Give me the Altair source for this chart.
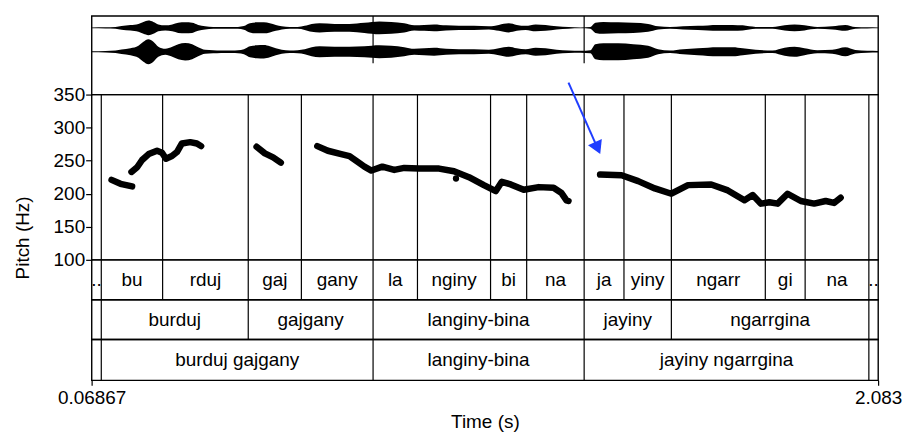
import altair as alt
import pandas as pd

# ---------------- data ----------------
T_START, T_END = 0.06867, 2.083
x_tick_values = [0.06867, 2.083]
x_tick_labels = ["0.06867", "2.083"]
pitch_ticks = [100, 150, 200, 250, 300, 350]

# waveform envelope (time in s, half amplitude per channel, relative units)
wave_t = [0.0687, 0.1044, 0.1299, 0.1452, 0.1681, 0.1885, 0.2013, 0.2140, 0.2268, 0.2395,
          0.2573, 0.2752, 0.2905, 0.3083, 0.3262, 0.3415, 0.3593, 0.3797, 0.4001, 0.4282,
          0.4435, 0.4588, 0.4741, 0.4919, 0.5098, 0.5251, 0.5404, 0.5557, 0.5761, 0.5965,
          0.6143, 0.6322, 0.6526, 0.6908, 0.7291, 0.7673, 0.8056, 0.8362, 0.8693, 0.8948,
          0.9203, 0.9458, 0.9764, 1.0096, 1.0478, 1.0861, 1.1116, 1.1371, 1.1575, 1.1804,
          1.2059, 1.2314, 1.2595, 1.2900, 1.3206, 1.3461, 1.3589, 1.3793, 1.4175, 1.4558,
          1.4940, 1.5195, 1.5501, 1.5833, 1.6215, 1.6725, 1.7108, 1.7363, 1.7694, 1.8128,
          1.8434, 1.8689, 1.8944, 1.9275, 1.9658, 1.9990, 2.0245, 2.0551, 2.0830]
wave_ch1 = [0.04, 0.05, 0.08, 0.15, 0.23, 0.33, 0.50, 0.61, 0.50, 0.29,
            0.21, 0.29, 0.42, 0.46, 0.42, 0.25, 0.13, 0.08, 0.07, 0.07,
            0.08, 0.15, 0.38, 0.46, 0.46, 0.38, 0.25, 0.13, 0.08, 0.08,
            0.17, 0.33, 0.38, 0.33, 0.33, 0.42, 0.54, 0.50, 0.38, 0.21,
            0.25, 0.29, 0.21, 0.17, 0.17, 0.13, 0.25, 0.38, 0.25, 0.17,
            0.29, 0.25, 0.13, 0.07, 0.04, 0.08, 0.42, 0.50, 0.46, 0.42,
            0.33, 0.13, 0.07, 0.13, 0.17, 0.25, 0.25, 0.21, 0.08, 0.07,
            0.21, 0.29, 0.21, 0.08, 0.13, 0.25, 0.08, 0.05, 0.04]
wave_ch2 = [0.05, 0.07, 0.10, 0.18, 0.29, 0.50, 0.83, 1.04, 0.83, 0.42,
            0.25, 0.42, 0.63, 0.73, 0.63, 0.38, 0.17, 0.13, 0.10, 0.10,
            0.13, 0.21, 0.46, 0.54, 0.56, 0.46, 0.29, 0.17, 0.10, 0.13,
            0.21, 0.38, 0.46, 0.42, 0.42, 0.46, 0.54, 0.50, 0.38, 0.25,
            0.29, 0.33, 0.25, 0.21, 0.21, 0.17, 0.29, 0.42, 0.29, 0.21,
            0.33, 0.29, 0.17, 0.10, 0.08, 0.13, 0.63, 0.71, 0.71, 0.63,
            0.50, 0.21, 0.10, 0.21, 0.29, 0.38, 0.38, 0.29, 0.17, 0.10,
            0.33, 0.42, 0.29, 0.13, 0.17, 0.38, 0.15, 0.08, 0.07]

# pitch track segments (time s, Hz)
seg1_t = [0.1197, 0.1426, 0.1724]
seg1_f = [221, 215, 211]
seg2_t = [0.1707, 0.1852, 0.1979, 0.2148, 0.2362, 0.2490, 0.2591, 0.2744, 0.2872,
          0.2999, 0.3211, 0.3382, 0.3491]
seg2_f = [233, 240, 251, 260, 265, 262, 253, 257, 263, 276, 278, 276, 272]
seg3_t = [0.4912, 0.5124, 0.5335, 0.5532]
seg3_f = [271, 261, 255, 247]
seg4_t = [0.6467, 0.6737, 0.7079, 0.7291, 0.7502, 0.7673, 0.7852, 0.8132, 0.8438,
          0.8693, 0.9076, 0.9586, 0.9968, 1.0351, 1.0733, 1.1039, 1.1192, 1.1421,
          1.1753, 1.2135, 1.2518, 1.2722, 1.2849, 1.2900]
seg4_f = [272, 265, 260, 257, 248, 241, 235, 241, 236, 239, 238, 238, 234, 225, 213,
          204, 218, 214, 206, 210, 209, 201, 190, 189]
seg5_t = [1.3709, 1.4260, 1.4686, 1.5112, 1.5535, 1.5961, 1.6555, 1.6981, 1.7406,
          1.7618, 1.7830, 1.8044, 1.8256, 1.8511, 1.8851, 1.9192, 1.9487, 1.9701, 1.9870]
seg5_f = [229, 228, 219, 208, 200, 213, 214, 205, 190, 198, 185, 187, 185, 200, 189,
          185, 189, 186, 194]
dot_t = [1.0019]
dot_f = [223]

# annotation arrow (start / head position, time s and Hz)
arrow_start = [1.290, 368]
arrow_head = [1.3645, 269]

# text tiers
tier1_bounds = [0.0934, 0.2505, 0.4698, 0.6059, 0.7895, 0.9032, 1.0904, 1.1829,
                1.3301, 1.4321, 1.5535, 1.7941, 1.8961, 2.0593]
tier1_labels = ["..", "bu", "rduj", "gaj", "gany", "la", "nginy", "bi", "na", "ja",
                "yiny", "ngarr", "gi", "na", ".."]
tier2_bounds = [0.0934, 0.4698, 0.7895, 1.3301, 1.5535, 2.0593]
tier2_labels = ["", "burduj", "gajgany", "langiny-bina", "jayiny", "ngarrgina", ""]
tier3_bounds = [0.0934, 0.7895, 1.3301, 2.0593]
tier3_labels = ["", "burduj gajgany", "langiny-bina", "jayiny ngarrgina", ""]

# ---------------- chart ----------------
FONT = "Liberation Sans"
FS = 19
W = 790
BLUE = "#1f3dff"

xs = alt.Scale(domain=[T_START, T_END], nice=False, zero=False)

# waveform panel
wscale = alt.Scale(domain=[-6.58, 0], nice=False, zero=False)
rows = []
for ch, center, amps in (("1", -1.0, wave_ch1), ("2", -3.0, wave_ch2)):
    for t, a in zip(wave_t, amps):
        rows.append({"t": t, "lo": center - a, "hi": center + a, "ch": ch})
wave_df = pd.DataFrame(rows)
wave_area = alt.Chart(wave_df).mark_area(color="black", interpolate="monotone").encode(
    x=alt.X("t:Q", scale=xs, axis=None),
    y=alt.Y("lo:Q", scale=wscale, axis=None),
    y2="hi:Q",
    detail="ch:N",
)
wb_df = pd.DataFrame({"t": tier3_bounds[1:-1], "top": 0.0, "bot": -3.95})
wave_rules = alt.Chart(wb_df).mark_rule(color="black", strokeWidth=1.2).encode(
    x=alt.X("t:Q", scale=xs, axis=None),
    y=alt.Y("top:Q", scale=wscale, axis=None),
    y2="bot:Q",
)
wave = alt.layer(wave_area, wave_rules).properties(width=W, height=79)

# pitch panel
yscale = alt.Scale(domain=[100, 350], nice=False, zero=False)
y_axis = alt.Axis(values=pitch_ticks, title="Pitch (Hz)", domain=False, grid=False,
                  tickSize=6, tickColor="black", tickWidth=1.2, labelPadding=1,
                  labelOverlap=False, labelFlush=False,
                  labelFontSize=FS, labelColor="black", labelFont=FONT,
                  titleFont=FONT, titleFontSize=FS, titleFontWeight="normal",
                  titleColor="black", titleAngle=270, titleAlign="center",
                  titleBaseline="middle", titleX=-69, titleY=143.5)
prow = []
for i, (ts, fs) in enumerate([(seg1_t, seg1_f), (seg2_t, seg2_f), (seg3_t, seg3_f),
                              (seg4_t, seg4_f), (seg5_t, seg5_f)]):
    for t, f in zip(ts, fs):
        prow.append({"t": t, "f": f, "seg": i})
pitch_df = pd.DataFrame(prow)

p_rules = alt.Chart(pd.DataFrame({"t": tier1_bounds})).mark_rule(
    color="black", strokeWidth=1.2).encode(x=alt.X("t:Q", scale=xs, axis=None))
p_line = alt.Chart(pitch_df).mark_line(
    color="black", strokeWidth=6.5, strokeCap="round", strokeJoin="round").encode(
    x=alt.X("t:Q", scale=xs, axis=None),
    y=alt.Y("f:Q", scale=yscale, axis=y_axis),
    detail="seg:N",
)
p_dot = alt.Chart(pd.DataFrame({"t": dot_t, "f": dot_f})).mark_circle(
    color="black", size=40, opacity=1).encode(
    x=alt.X("t:Q", scale=xs, axis=None), y=alt.Y("f:Q", scale=yscale, axis=y_axis))
arrow_df = pd.DataFrame({"t": [arrow_start[0]], "f": [arrow_start[1]],
                         "t2": [arrow_head[0]], "f2": [arrow_head[1]]})
a_line = alt.Chart(arrow_df).mark_rule(color=BLUE, strokeWidth=2).encode(
    x=alt.X("t:Q", scale=xs, axis=None), y=alt.Y("f:Q", scale=yscale, axis=y_axis),
    x2="t2:Q", y2="f2:Q")
a_head = alt.Chart(arrow_df).mark_point(
    shape="triangle-down", filled=True, color=BLUE, size=230, angle=336, opacity=1).encode(
    x=alt.X("t2:Q", scale=xs, axis=None), y=alt.Y("f2:Q", scale=yscale, axis=y_axis))
pitch = alt.layer(p_rules, p_line, p_dot, a_line, a_head).properties(width=W, height=166)


def tier(bounds, labels, height, x_axis=None):
    edges = [T_START] + bounds + [T_END]
    mids = [(a + b) / 2 for a, b in zip(edges[:-1], edges[1:])]
    tdf = pd.DataFrame({"t": mids, "label": labels})
    tdf = tdf[tdf["label"] != ""]
    rules = alt.Chart(pd.DataFrame({"t": bounds})).mark_rule(
        color="black", strokeWidth=1.2).encode(x=alt.X("t:Q", scale=xs, axis=x_axis))
    texts = alt.Chart(tdf).mark_text(
        font=FONT, fontSize=FS, color="black", baseline="middle", align="center").encode(
        x=alt.X("t:Q", scale=xs, axis=x_axis), text="label:N")
    return alt.layer(rules, texts).properties(width=W, height=height)


label_map = "{" + ", ".join(f"'{v}': '{l}'" for v, l in zip(x_tick_values, x_tick_labels)) + "}"
x_axis = alt.Axis(values=x_tick_values, title="Time (s)", domain=False, grid=False,
                  tickSize=5, tickColor="black", tickWidth=1.2, labelPadding=3,
                  labelFlush=False, labelOverlap=False, labelFontSize=FS,
                  labelColor="black", labelFont=FONT,
                  labelExpr=f"{label_map}[datum.value + ''] || datum.label",
                  titleFont=FONT, titleFontSize=FS, titleFontWeight="normal",
                  titleColor="black", titlePadding=5)

t1 = tier(tier1_bounds, tier1_labels, 40)
t2 = tier(tier2_bounds, tier2_labels, 40)
t3 = tier(tier3_bounds, tier3_labels, 41, x_axis)

chart = alt.vconcat(wave, pitch, t1, t2, t3, spacing=0, bounds="flush").properties(
    padding={"left": 5, "top": 5, "right": 0, "bottom": 0}
).configure_view(stroke="black", strokeWidth=1.4)

chart.save("out.html", embed_options={"renderer": "svg", "actions": False})
